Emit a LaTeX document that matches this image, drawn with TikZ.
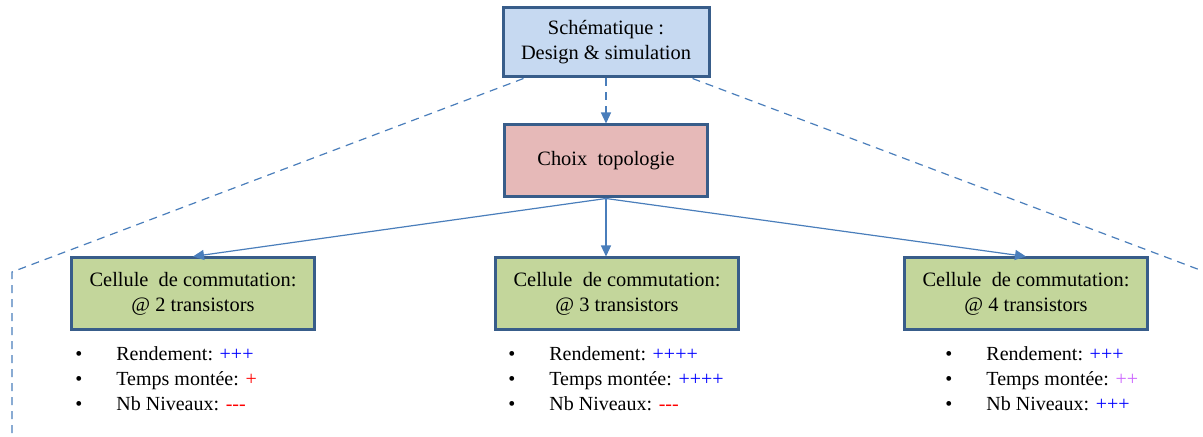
\documentclass[tikz,border=0pt]{standalone}
\usepackage{xcolor}
\usepackage{fontspec}
\setmainfont{Liberation Serif}
\usepackage{tikz}
\usetikzlibrary{arrows.meta,positioning}
\definecolor{boxline}{HTML}{385D8A}
\definecolor{conn}{HTML}{4A7EBB}
\definecolor{skyfill}{HTML}{C6D9F1}
\definecolor{rosefill}{HTML}{E6B9B8}
\definecolor{olivefill}{HTML}{C3D69B}
\definecolor{plusviolet}{HTML}{CC66FF}
\newcommand{\plus}[1]{\textcolor{blue}{#1}}
\newcommand{\minus}{\textcolor{red}{-{}-{}-}}

\begin{document}
\begin{tikzpicture}[
box/.style={draw=boxline,line width=1.5pt,minimum height=34.5pt,align=center,inner sep=2pt,font=\fontsize{10.2}{12.4}\selectfont},
cellbox/.style={box,fill=olivefill,minimum width=121.5pt,minimum height=36pt},
arr/.style={-{Triangle[length=5.5pt,width=5pt]},conn,line width=0.6pt},
zoomline/.style={conn,line width=0.6pt,dash pattern=on 4pt off 3pt},
perf/.style={anchor=north west,inner sep=0pt,align=left,font=\fontsize{10}{12.5}\selectfont}]
\useasboundingbox (0,0) rectangle (601.5pt,-218.5pt);
\node[box,fill=skyfill,minimum width=103pt] (schema) at (303pt,-21.25pt) {Sch\'ematique :\\Design \& simulation};
\node[box,fill=rosefill,minimum width=101.5pt,minimum height=36pt,below=22.5pt of schema] (topo) {Choix\ \ topologie};
\node[cellbox,below=29pt of topo,xshift=5.5pt] (cell3t) {Cellule\ \ de commutation:\\@ 3 transistors};
\node[cellbox,left=89pt of cell3t] (cell2t) {Cellule\ \ de commutation:\\@ 2 transistors};
\node[cellbox,right=81.5pt of cell3t] (cell4t) {Cellule\ \ de commutation:\\@ 4 transistors};
% performances
\node[perf,below right=5.5pt and 2.5pt of cell2t.south west] (perf2t) {\begin{tabular}{@{}l@{\hspace{17pt}}l@{}}
\textbullet & Rendement: \plus{+++}\\
\textbullet & Temps mont\'ee: \textcolor{red}{+}\\
\textbullet & Nb Niveaux: \minus
\end{tabular}};
\node[perf,below right=5.5pt and 7pt of cell3t.south west] (perf3t) {\begin{tabular}{@{}l@{\hspace{17pt}}l@{}}
\textbullet & Rendement: \plus{++++}\\
\textbullet & Temps mont\'ee: \plus{++++}\\
\textbullet & Nb Niveaux: \minus
\end{tabular}};
\node[perf,below right=5.5pt and 21pt of cell4t.south west] (perf4t) {\begin{tabular}{@{}l@{\hspace{17pt}}l@{}}
\textbullet & Rendement: \plus{+++}\\
\textbullet & Temps mont\'ee: \textcolor{plusviolet}{++}\\
\textbullet & Nb Niveaux: \plus{+++}
\end{tabular}};
% zoom outline
\coordinate (zl) at ([xshift=11pt]schema.south west);
\coordinate (zr) at ([xshift=-9pt]schema.south east);
\coordinate (zlc) at (6pt,-136pt);
\coordinate (zlb) at (6pt,-218.5pt);
\coordinate (zrc) at (600pt,-135pt);
\draw[zoomline] (zl)--(zlc)--(zlb); \draw[zoomline] (zr)--(zrc);
\draw[arr,dashed,dash pattern=on 4pt off 3pt] (schema)--(topo);
\draw[arr] (topo.south)--(cell2t.north); \draw[arr] (topo.south)--(topo.south |- cell3t.north); \draw[arr] (topo.south)--(cell4t.north);
\end{tikzpicture}
\end{document}
